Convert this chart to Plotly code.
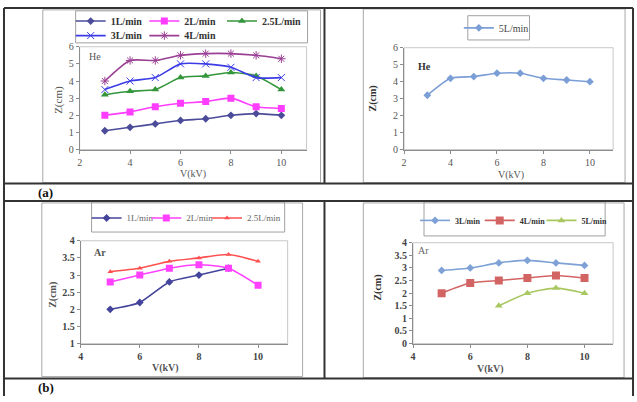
import plotly.graph_objects as go

W, H = 637, 402
def X(p): return p / W
def Y(p): return 1 - p / H

# ---------------- data ----------------
v_he = [3, 4, 5, 6, 7, 8, 9, 10]
he_1 = [1.1, 1.3, 1.5, 1.7, 1.8, 2.0, 2.1, 2.0]
he_2 = [2.0, 2.2, 2.5, 2.7, 2.8, 3.0, 2.5, 2.4]
he_25 = [3.2, 3.4, 3.5, 4.2, 4.3, 4.5, 4.3, 3.5]
he_3 = [3.5, 4.0, 4.2, 5.0, 5.0, 4.8, 4.2, 4.2]
he_4 = [4.0, 5.2, 5.2, 5.5, 5.6, 5.6, 5.5, 5.3]
he_5 = [3.2, 4.2, 4.3, 4.5, 4.5, 4.2, 4.1, 4.0]

v_ar_1 = [5, 6, 7, 8, 9]
ar_1 = [2.0, 2.2, 2.8, 3.0, 3.2]
v_ar = [5, 6, 7, 8, 9, 10]
ar_2 = [2.8, 3.0, 3.2, 3.3, 3.2, 2.7]
ar_25 = [3.1, 3.2, 3.4, 3.5, 3.6, 3.4]
ar_3 = [2.9, 3.0, 3.2, 3.3, 3.2, 3.1]
ar_4 = [2.0, 2.4, 2.5, 2.6, 2.7, 2.6]
v_ar_5 = [7, 8, 9, 10]
ar_5 = [1.5, 2.0, 2.2, 2.0]

he_ticks_x = [2, 4, 6, 8, 10]
ar_ticks_x = [4, 6, 8, 10]

SERIF = "Liberation Serif"

fig = go.Figure()
legends = {}
_count = [0]

def add(x, y, name, color, symbol, size, xa, ya, lx, ly, lfont, open_sym=False):
    _count[0] += 1
    key = "legend" if _count[0] == 1 else f"legend{_count[0]}"
    marker = dict(symbol=symbol, size=size, color=color)
    if open_sym:
        marker["line"] = dict(color=color, width=1)
    fig.add_trace(go.Scatter(
        x=x, y=y, name=name, mode="lines+markers", showlegend=True,
        line=dict(color=color, width=1.6, shape="spline", smoothing=0.6),
        marker=marker, xaxis=xa, yaxis=ya, legend=key))
    legends[key] = dict(x=X(lx), y=Y(ly), xanchor="left", yanchor="middle",
                        orientation="h", bgcolor="rgba(0,0,0,0)", borderwidth=0,
                        itemwidth=30, itemclick=False, itemdoubleclick=False,
                        font=lfont, visible=True)

f_tl = dict(family=SERIF, size=10, color="#333333", weight="bold")
f_tr = dict(family=SERIF, size=10, color="#444444")
f_bl = dict(family=SERIF, size=9, color="#666666")
f_br = dict(family=SERIF, size=8, color="#333333", weight="bold")

# top-left (He)
add(v_he, he_1, "1L/min", "#4B4B9A", "diamond", 6, "x", "y", 68, 15.5, f_tl)
add(v_he, he_2, "2L/min", "#FF3DFF", "square", 7, "x", "y", 142, 15.5, f_tl)
add(v_he, he_25, "2.5L/min", "#33963A", "triangle-up", 7, "x", "y", 220, 15.5, f_tl)
add(v_he, he_3, "3L/min", "#3C3CE6", "x-thin-open", 7, "x", "y", 68, 30.5, f_tl, open_sym=True)
add(v_he, he_4, "4L/min", "#9A3F93", "asterisk-open", 7, "x", "y", 142, 30.5, f_tl, open_sym=True)
# top-right (He)
add(v_he, he_5, "5L/min", "#7B9ED6", "diamond", 6, "x2", "y2", 458, 22.5, f_tr)
# bottom-left (Ar)
add(v_ar_1, ar_1, "1L/min", "#44449C", "diamond", 6, "x3", "y3", 84, 218.5, f_bl)
add(v_ar, ar_2, "2L/min", "#FF40FF", "square", 7, "x3", "y3", 144, 218.5, f_bl)
add(v_ar, ar_25, "2.5L/min", "#FF5050", "triangle-up", 5, "x3", "y3", 205, 218.5, f_bl)
# bottom-right (Ar)
add(v_ar, ar_3, "3L/min", "#7EA1D6", "diamond", 6, "x4", "y4", 414, 221, f_br)
add(v_ar, ar_4, "4L/min", "#D36464", "square", 8, "x4", "y4", 479, 221, f_br)
add(v_ar_5, ar_5, "5L/min", "#A9C862", "triangle-up", 7, "x4", "y4", 541, 221, f_br)

def axis(domain, rng, **kw):
    d = dict(domain=domain, range=rng, showline=True, linecolor="#8c8c8c",
             linewidth=1, ticks="outside", ticklen=3, tickcolor="#8c8c8c",
             showgrid=False, zeroline=False, fixedrange=True)
    d.update(kw)
    return d

tf_reg = dict(family=SERIF, size=10, color="#555555")
tf_bold = dict(family=SERIF, size=10, color="#444444", weight="bold")

fig.update_layout(
    width=W, height=H, margin=dict(l=0, r=0, t=0, b=0),
    paper_bgcolor="white", plot_bgcolor="white", showlegend=True,
    xaxis=axis([X(77), X(305)], [2, 11], tickvals=he_ticks_x, tickfont=tf_reg, anchor="y"),
    yaxis=axis([Y(148), Y(42)], [0, 6], dtick=1, tickfont=tf_reg, anchor="x"),
    xaxis2=axis([X(403), X(613)], [2, 11], tickvals=he_ticks_x, tickfont=tf_reg, anchor="y2"),
    yaxis2=axis([Y(148), Y(43)], [0, 6], dtick=1, tickfont=tf_reg, anchor="x2"),
    xaxis3=axis([X(78), X(286)], [4, 11], tickvals=ar_ticks_x, tickfont=tf_bold, anchor="y3"),
    yaxis3=axis([Y(348), Y(242)], [1, 4], dtick=0.5, tickfont=tf_bold, anchor="x3"),
    xaxis4=axis([X(412), X(613)], [4, 11], tickvals=ar_ticks_x, tickfont=tf_bold, anchor="y4"),
    yaxis4=axis([Y(348), Y(244)], [0, 4], dtick=0.5, tickfont=tf_bold, anchor="x4"),
)
fig.update_layout(**legends)

shapes = []
def rect(x0, y0, x1, y1, color, width=1, layer="below"):
    shapes.append(dict(type="rect", xref="paper", yref="paper",
                       x0=X(x0), x1=X(x1), y0=Y(y1), y1=Y(y0),
                       line=dict(color=color, width=width), layer=layer))
def line(x0, y0, x1, y1, color="#333333", width=2):
    shapes.append(dict(type="line", xref="paper", yref="paper",
                       x0=X(x0), x1=X(x1), y0=Y(y0), y1=Y(y1),
                       line=dict(color=color, width=width), layer="above"))

# chart frames
rect(40, 4, 319, 182, "#a8a8a8")
rect(362, 3, 625, 182, "#a8a8a8")
rect(39, 203, 301, 382, "#a8a8a8")
rect(362, 203, 624, 383, "#a8a8a8")
# legend boxes
rect(73, 5, 306, 38, "#a0a0a0")
rect(467, 10, 529, 35, "#a0a0a0")
rect(89, 202, 283, 233, "#a0a0a0")
rect(423, 202, 605, 237, "#a0a0a0")
# plot-area borders
for xr, yr in [("x", "y"), ("x2", "y2"), ("x3", "y3"), ("x4", "y4")]:
    shapes.append(dict(type="rect", xref=f"{xr} domain", yref=f"{yr} domain",
                       x0=0, x1=1, y0=0, y1=1, line=dict(color="#c8c8c8", width=1),
                       layer="below"))
# table lines
line(1, 2, 633, 2)
line(1, 2, 1, 402)
line(633, 2, 633, 402)
line(323, 2, 323, 183)
line(323, 201, 323, 384)
line(1, 183, 633, 183)
line(1, 201, 633, 201)
line(1, 384, 633, 384)

annotations = []
def text(t, x, y, size=10, color="#555", bold=False, angle=0):
    annotations.append(dict(text=t, x=X(x), y=Y(y), xref="paper", yref="paper",
                            showarrow=False, xanchor="center", yanchor="middle",
                            textangle=angle,
                            font=dict(family=SERIF, size=size, color=color,
                                      weight="bold" if bold else "normal")))

text("Z(cm)", 55, 97, 11, "#555", False, -90)
text("V(kV)", 191, 173, 10, "#555")
text("He", 92, 52, 10, "#555")
text("Z(cm)", 372, 95, 10, "#333", True, -90)
text("V(kV)", 510, 174, 10, "#555")
text("He", 423, 62, 10, "#333", True)
text("Z(cm)", 50, 298, 10, "#555", True, -90)
text("V(kV)", 163, 373, 10, "#555", True)
text("Ar", 97, 254, 10, "#555", True)
text("Z(cm)", 377, 290, 10, "#333", True, -90)
text("V(kV)", 490, 374, 10, "#555", True)
text("Ar", 422, 252, 10, "#666", False)
text("(a)", 43, 192, 13, "#111", True)
text("(b)", 43, 393, 13, "#111", True)

fig.update_layout(shapes=shapes, annotations=annotations)

fig.write_html("out.html")
